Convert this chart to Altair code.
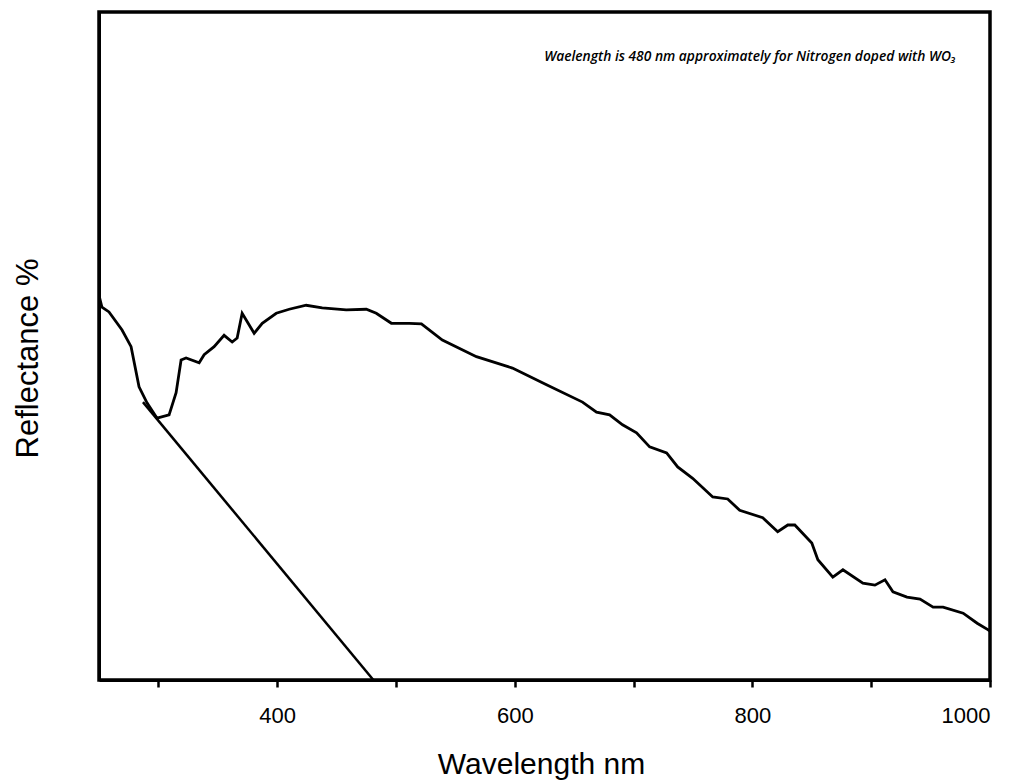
import altair as alt
import pandas as pd

# Reflectance spectrum (wavelength nm, reflectance in arbitrary % units)
wavelength = [250, 252.5, 258.4, 269.4, 277, 283.7, 290.4, 298.9, 309, 314.9, 319.1, 323.3,
              334.3, 338.5, 346.9, 355.3, 362.1, 366.3, 370.5, 380.6, 387.4, 399.2, 410.1,
              424.4, 437.9, 458.1, 475, 483.4, 496.1, 511.2, 521.4, 539, 567.7, 598, 626.7,
              657, 668.8, 679.8, 690.7, 702.5, 713.5, 727.8, 737.1, 749.7, 766.6, 779.2,
              789.3, 808.7, 821.3, 829.8, 835.7, 850, 855.1, 867.7, 876.2, 893, 903.1,
              911.6, 918.3, 930.1, 941.1, 952.1, 960.5, 977.4, 989.2, 998.5, 1000]
reflectance = [57.6, 55.8, 55.1, 52.4, 49.9, 43.9, 41.5, 39.2, 39.7, 43.0, 47.9, 48.2,
               47.5, 48.7, 49.9, 51.6, 50.6, 51.2, 54.9, 51.9, 53.4, 54.9, 55.5,
               56.1, 55.7, 55.4, 55.5, 54.9, 53.4, 53.4, 53.3, 50.9, 48.4, 46.7, 44.2,
               41.6, 40.1, 39.7, 38.2, 37.0, 34.9, 34.0, 31.9, 30.2, 27.4, 27.1,
               25.4, 24.3, 22.2, 23.2, 23.2, 20.5, 18.0, 15.4, 16.5, 14.5, 14.2,
               15.0, 13.2, 12.4, 12.1, 10.9, 10.9, 10.0, 8.5, 7.5, 7.3]

# Tangent (band-edge extrapolation) line
tangent_wavelength = [287, 481]
tangent_reflectance = [41.6, 0]

annotation = ["Waelength is 480 nm approximately for Nitrogen doped with WO\u2083"]

x_ticks = [300, 400, 500, 600, 700, 800, 900, 1000]

spec = pd.DataFrame({"wl": wavelength, "r": reflectance})
tan = pd.DataFrame({"wl": tangent_wavelength, "r": tangent_reflectance})
ann = pd.DataFrame({"t": annotation})

xscale = alt.Scale(domain=[250, 1000], nice=False, zero=False)
yscale = alt.Scale(domain=[0, 100], nice=False)

xaxis = alt.Axis(
    values=x_ticks,
    format="d",
    labelExpr="datum.value % 200 == 0 ? datum.label : ''",
    title="Wavelength nm",
    grid=False,
    domainColor="black", domainWidth=3,
    tickColor="black", tickWidth=2.5, tickSize=7,
    labelFont="Liberation Sans", labelFontSize=22, labelColor="black", labelPadding=18,
    titleFont="Liberation Sans", titleFontSize=30, titleFontWeight="normal", titleColor="black",
    titleBaseline="alphabetic", titleY=93, titleX=442,
)
yaxis = alt.Axis(
    title="Reflectance %",
    grid=False, ticks=False, labels=False,
    domainColor="black", domainWidth=3,
    titleFont="Liberation Sans", titleFontSize=31, titleFontWeight="normal", titleColor="black",
    titleX=-62, titleY=346, titleAngle=270, titleBaseline="alphabetic", titleAlign="center",
)

curve = alt.Chart(spec).mark_line(color="black", strokeWidth=2.8, clip=True).encode(
    x=alt.X("wl:Q", scale=xscale, axis=xaxis),
    y=alt.Y("r:Q", scale=yscale, axis=yaxis),
    order="wl:Q",
)

tline = alt.Chart(tan).mark_line(color="black", strokeWidth=2.5, clip=True).encode(
    x=alt.X("wl:Q", scale=xscale),
    y=alt.Y("r:Q", scale=yscale),
)

label = alt.Chart(ann).mark_text(
    font="Open Sans", fontStyle="italic", fontWeight=600, fontSize=13.8, color="black",
    align="right", baseline="middle",
).encode(
    x=alt.value(857), y=alt.value(45), text="t:N",
)

chart = alt.layer(curve, tline, label).properties(
    width=891, height=668,
    padding={"left": 99, "top": 12, "right": 27, "bottom": 103},
    autosize=alt.AutoSizeParams(type="none"),
    background="white",
).configure_view(stroke="black", strokeWidth=3.5)

chart.save("out.html", embed_options={"renderer": "svg", "actions": False})
